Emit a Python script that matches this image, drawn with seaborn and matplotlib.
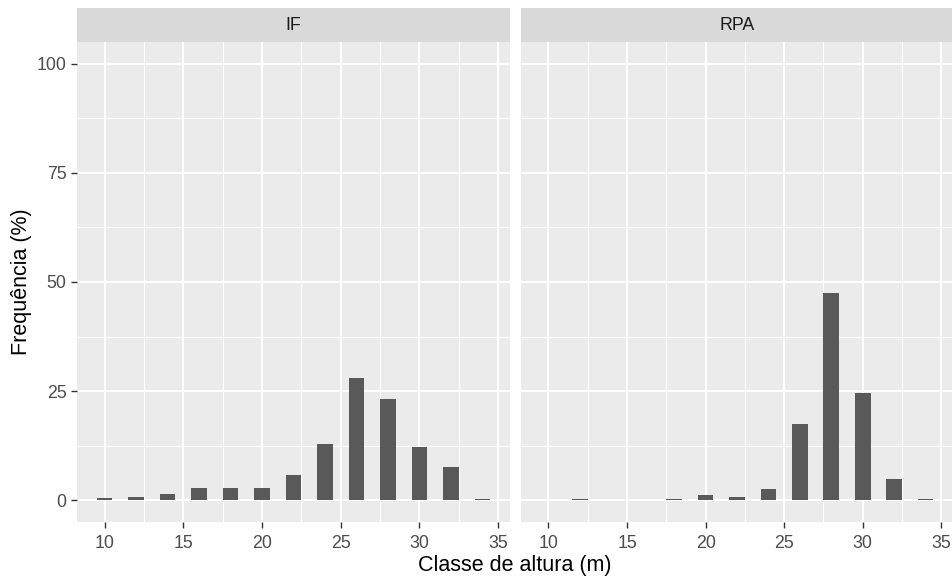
import matplotlib
matplotlib.use("Agg")
import matplotlib.pyplot as plt
import seaborn as sns
import pandas as pd
import numpy as np

# Data
if_classes = [10, 12, 14, 16, 18, 20, 22, 24, 26, 28, 30, 32, 34]
if_freq = [0.4, 0.7, 1.4, 2.7, 2.7, 2.7, 5.7, 12.8, 27.9, 23.1, 12.1, 7.7, 0.3]
rpa_classes = [12, 18, 20, 22, 24, 26, 28, 30, 32, 34]
rpa_freq = [0.3, 0.3, 1.1, 0.7, 2.5, 17.5, 47.5, 24.5, 4.8, 0.3]
facets = ["IF", "RPA"]
x_ticks = [10, 15, 20, 25, 30, 35]
y_ticks = [0, 25, 50, 75, 100]

df = pd.concat([
    pd.DataFrame({"classe": if_classes, "freq": if_freq, "grupo": "IF"}),
    pd.DataFrame({"classe": rpa_classes, "freq": rpa_freq, "grupo": "RPA"}),
])

sns.set_theme(style="white")
plt.rcParams["font.family"] = ["Liberation Sans", "DejaVu Sans"]

W, H = 953, 579
fig = plt.figure(figsize=(W / 100, H / 100), dpi=100)

panel_bg = "#EBEBEB"
strip_bg = "#D9D9D9"
bar_col = "#595959"
tick_col = "#4D4D4D"

panels = [(77, 510), (521, 953)]
ptop, pbot = 42, 522
stop = 8

for i, (g, (x0, x1)) in enumerate(zip(facets, panels)):
    ax = fig.add_axes([x0 / W, (H - pbot) / H, (x1 - x0) / W, (pbot - ptop) / H])
    sub = df[df["grupo"] == g]
    sns.barplot(data=sub, x="classe", y="freq", native_scale=True, color=bar_col,
                width=0.5, linewidth=0, saturation=1, ax=ax, zorder=3, errorbar=None)
    ax.set_facecolor(panel_bg)
    ax.set_xlim(8.25, 35.75)
    ax.set_ylim(-5, 105)
    ax.set_xticks(x_ticks)
    ax.set_yticks(y_ticks)
    ax.set_xticks([12.5, 17.5, 22.5, 27.5, 32.5], minor=True)
    ax.set_yticks([12.5, 37.5, 62.5, 87.5], minor=True)
    ax.grid(which="major", color="white", linewidth=1.5, zorder=0)
    ax.grid(which="minor", color="white", linewidth=0.75, zorder=0)
    ax.set_axisbelow(True)
    for s in ax.spines.values():
        s.set_visible(False)
    ax.tick_params(axis="both", which="major", length=4.5, width=1.0, color="#333333",
                   labelsize=12.8, labelcolor=tick_col, pad=3, bottom=True, left=(i == 0))
    ax.tick_params(axis="x", which="major", pad=5)
    ax.tick_params(axis="both", which="minor", length=0)
    ax.set_xticklabels([str(t) for t in x_ticks])
    if i == 0:
        ax.set_yticklabels([str(t) for t in y_ticks])
    else:
        ax.set_yticklabels([])
    ax.set_xlabel("")
    ax.set_ylabel("")

    sax = fig.add_axes([x0 / W, (H - ptop) / H, (x1 - x0) / W, (ptop - stop) / H])
    sax.set_facecolor(strip_bg)
    sax.set_xticks([]); sax.set_yticks([])
    for s in sax.spines.values():
        s.set_visible(False)
    sax.text(0.5, 0.5, g, ha="center", va="center", fontsize=12.8, color="#1A1A1A",
             transform=sax.transAxes)

fig.text((77 + 953) / 2 / W, 1 - 566 / H, "Classe de altura (m)", ha="center", va="center",
         fontsize=15.5, color="black")
fig.text(22 / W, 1 - ((ptop + pbot) / 2) / H, "Frequência (%)", ha="center", va="center",
         rotation=90, fontsize=15.5, color="black")

fig.savefig("out.png", dpi=100, facecolor="white")
